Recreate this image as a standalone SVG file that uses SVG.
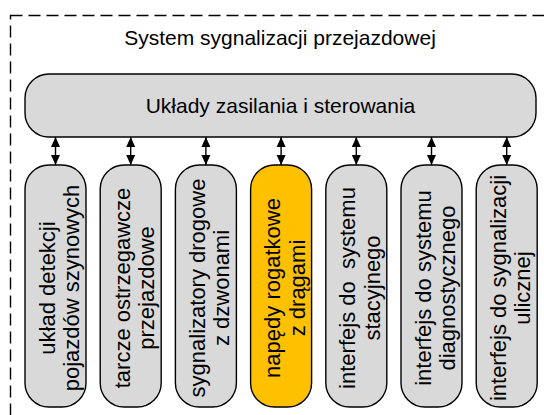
<svg xmlns="http://www.w3.org/2000/svg" width="544" height="415" viewBox="0 0 544 415">
<style>
text{font-family:"Liberation Sans",Arial,sans-serif;font-size:21px;fill:#000;text-anchor:middle}
text.v{font-size:22px}
.box{fill:#D9D9D9;stroke:#000;stroke-width:1.4}
.hl{fill:#FFC000}
.con{stroke:#000;stroke-width:1.4;fill:none;marker-start:url(#ah);marker-end:url(#ah)}
</style>
<defs>
<marker id="ah" viewBox="0 0 10 10" refX="10" refY="5" markerWidth="10" markerHeight="10" markerUnits="userSpaceOnUse" orient="auto-start-reverse">
<path d="M0,0.5 L10,5 L0,9.5 Z" fill="#000"/>
</marker>
</defs>
<rect x="10.5" y="15.5" width="600" height="500" fill="none" stroke="#000" stroke-width="1.4" stroke-dasharray="12 6"/>
<text x="280" y="45">System sygnalizacji przejazdowej</text>
<g id="sterowanie">
<rect class="box" x="25" y="74" width="511" height="63" rx="24"/>
<text x="280.5" y="113">Układy zasilania i sterowania</text>
</g>
<g id="connectors">
<line class="con" x1="55.5" y1="137" x2="55.5" y2="165"/>
<line class="con" x1="130.7" y1="137" x2="130.7" y2="165"/>
<line class="con" x1="205.9" y1="137" x2="205.9" y2="165"/>
<line class="con" x1="281.1" y1="137" x2="281.1" y2="165"/>
<line class="con" x1="356.3" y1="137" x2="356.3" y2="165"/>
<line class="con" x1="431.5" y1="137" x2="431.5" y2="165"/>
<line class="con" x1="506.7" y1="137" x2="506.7" y2="165"/>
</g>
<g id="n1">
<rect class="box" x="25" y="165" width="61" height="242" rx="24"/>
<text class="v" transform="translate(54.5,288) rotate(-90)">układ detekcji</text>
<text class="v" transform="translate(79,288) rotate(-90)">pojazdów szynowych</text>
</g>
<g id="n2">
<rect class="box" x="100.2" y="165" width="61" height="242" rx="24"/>
<text class="v" transform="translate(129.7,288) rotate(-90)">tarcze ostrzegawcze</text>
<text class="v" transform="translate(154.2,288) rotate(-90)">przejazdowe</text>
</g>
<g id="n3">
<rect class="box" x="175.4" y="165" width="61" height="242" rx="24"/>
<text class="v" transform="translate(204.9,288) rotate(-90)">sygnalizatory drogowe</text>
<text class="v" transform="translate(229.4,288) rotate(-90)">z dzwonami</text>
</g>
<g id="n4">
<rect class="box hl" x="250.6" y="165" width="61" height="242" rx="24"/>
<text class="v" transform="translate(280.1,288) rotate(-90)">napędy rogatkowe</text>
<text class="v" transform="translate(304.6,288) rotate(-90)">z drągami</text>
</g>
<g id="n5">
<rect class="box" x="325.8" y="165" width="61" height="242" rx="24"/>
<text class="v" transform="translate(355.3,288) rotate(-90)">interfejs do&#160; systemu</text>
<text class="v" transform="translate(379.8,288) rotate(-90)">stacyjnego</text>
</g>
<g id="n6">
<rect class="box" x="401" y="165" width="61" height="242" rx="24"/>
<text class="v" transform="translate(430.5,288) rotate(-90)">interfejs do systemu</text>
<text class="v" transform="translate(455,288) rotate(-90)">diagnostycznego</text>
</g>
<g id="n7">
<rect class="box" x="476.2" y="165" width="61" height="242" rx="24"/>
<text class="v" transform="translate(505.7,288) rotate(-90)">interfejs do sygnalizacji</text>
<text class="v" transform="translate(530.2,288) rotate(-90)">ulicznej</text>
</g>
</svg>
